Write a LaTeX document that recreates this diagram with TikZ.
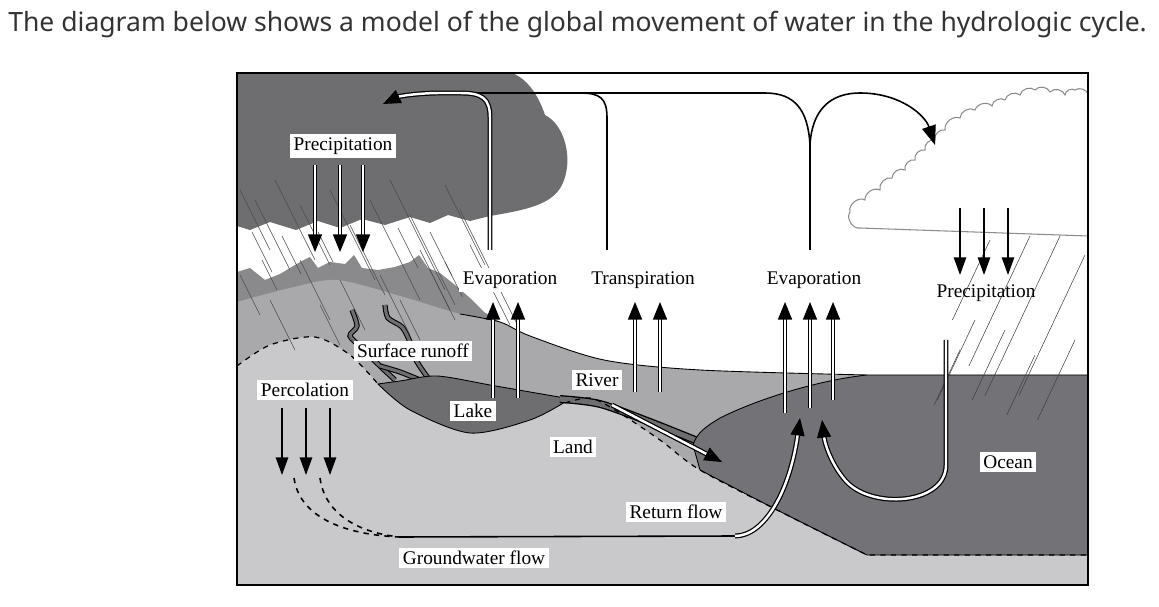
\documentclass[tikz,border=0pt]{standalone}
\usepackage{fontspec}
\setmainfont{Liberation Serif}
\newfontfamily\titlefont{Noto Sans}
\usetikzlibrary{arrows.meta}

\definecolor{stormgray}{HTML}{6E6E71}
\definecolor{peakgray}{HTML}{8A8A8D}
\definecolor{hillgray}{HTML}{A9A9AC}
\definecolor{landgray}{HTML}{C9C9CC}
\definecolor{seagray}{HTML}{737377}

\tikzset{
  lbl/.style={fill=white, inner sep=2pt, font=\fontsize{11}{13}\selectfont},
  hollow/.style={double=white, double distance=1.4pt, line width=0.7pt},
  hollowarr/.style={hollow, -{Triangle[length=10pt,width=8pt]}},
  solidarr/.style={line width=1pt, -{Triangle[length=10pt,width=7pt]}},
  rain/.style={line width=0.3pt, black!70},
  track/.style={line width=0.9pt},
}

\begin{document}
\begin{tikzpicture}[x=0.02cm, y=-0.02cm]
\useasboundingbox (0,0) rectangle (1159,607);
\node[font=\titlefont\fontsize{15.1}{17}\selectfont, text=black!80, anchor=west, inner sep=0pt] (title) at (8,25) {The diagram below shows a model of the global movement of water in the hydrologic cycle.};
% ground layers
\fill[white] (237,73) rectangle (1088,585);
\fill[peakgray] plot[sharp corners] coordinates {(237,272) (250,268) (265,280) (280,274) (300,262) (310,257) (318,268) (330,262) (345,264) (354,255) (362,268) (378,270) (395,267) (410,262) (419,255) (428,268) (440,273) (455,285) (470,298) (484,312) (500,322)} -- (500,585) -- (237,585) -- cycle;
\fill[hillgray] plot[smooth] coordinates {(237,302) (290,288) (337,280) (400,296) (460,314) (500,322) (530,336) (604,360) (700,370) (867,375)} -- (867,585) -- (237,585) -- cycle;
\draw[line width=0.5pt] plot[smooth] coordinates {(460,314) (500,322) (530,336) (604,360) (700,370) (867,375)};
\fill[landgray] plot[smooth] coordinates {(237,366) (270,345) (315,337) (350,355) (378,384)} -- (470,433) -- plot[smooth] coordinates {(565,403) (590,398) (615,410) (660,440) (700,470) (783,513) (867,555)} -- (1088,555) -- (1088,585) -- (237,585) -- cycle;
% lake and streams
\foreach \s in {{(352,310) (357,326) (350,336) (362,348) (380,366) (395,380)}, {(385,305) (388,318) (402,327) (410,342) (416,360) (428,378)}, {(380,366) (400,372) (420,380)}} {
  \draw[line width=3pt, black] plot[smooth] coordinates \s;
  \draw[line width=1.8pt, stormgray] plot[smooth] coordinates \s;
}
\filldraw[fill=stormgray, line width=0.5pt] plot[smooth] coordinates {(378,384) (410,410) (470,433) (530,420) (565,402)} -- plot[smooth] coordinates {(565,398) (530,392) (490,385) (437,376) (400,381) (378,384)} -- cycle;
\draw[line width=4.5pt] plot[smooth] coordinates {(560,399) (600,404) (650,422) (700,442)};
\draw[line width=3pt, stormgray] plot[smooth] coordinates {(560,399) (600,404) (650,422) (700,442)};
% ocean
\filldraw[fill=seagray, line width=0.5pt] (867,375) -- (1088,375) -- (1088,555) -- (867,555) -- plot[smooth] coordinates {(867,555) (783,513) (700,470)} -- (693,445) .. controls (697,432) and (707,426) .. (720,418) .. controls (760,398) and (820,380) .. (867,375);
\draw[dashed, line width=0.7pt] plot[smooth] coordinates {(237,366) (270,345) (315,337) (350,355) (378,384)};
\draw[dashed, line width=0.7pt] plot[smooth] coordinates {(565,403) (590,398) (615,410) (660,440) (700,470) (783,513) (867,555)} -- (1088,555);
% storm cloud
\fill[stormgray] (237,73) -- (512,73) .. controls (530,80) and (540,100) .. (545,115) .. controls (565,125) and (574,160) .. (562,185) .. controls (552,205) and (525,210) .. (490,216) -- (470,221) -- (448,215) -- (430,223) -- (410,217) -- (385,225) -- (362,219) -- (340,228) -- (318,221) -- (296,230) -- (270,222) -- (250,230) -- (237,226) -- cycle;
% rain
\foreach \x/\y/\l in {240/190/60, 255/200/70, 275/180/80, 300/205/60, 330/190/90, 350/225/70, 370/200/100, 390/180/110, 410/215/90, 420/250/70, 445/185/80, 460/210/120, 470/245/80, 300/260/60, 240/275/40, 270/300/50, 320/305/40, 340/280/50, 380/275/60, 400/300/40, 252/232/40, 282/236/38, 318/232/30, 398/228/40, 430/232/44, 262/260/30, 430/270/40, 445/262/35} {
  \draw[rain] (\x,\y) -- ++(0.5*\l,\l);
}
\foreach \x/\y/\l in {990/240/80, 1030/236/130, 1060/236/160, 1085/255/140, 975/320/80, 1005/330/70, 960/350/55, 1035/355/60, 1075/340/80} {
  \draw[rain, black!75] (\x,\y) -- ++(-0.47*\l,\l);
}
% fair-weather cloud
\draw[black!45, line width=0.6pt] (1088,236) -- (860,228) to[bend left=70] (850,212) to[bend left=70] (865,200) to[bend left=60] (880,190) to[bend left=60] (892,178) to[bend left=60] (905,170) to[bend left=60] (915,160) to[bend left=60] (925,150) to[bend left=60] (935,140) to[bend left=60] (945,130) to[bend left=60] (960,118) to[bend left=60] (975,110) to[bend left=60] (992,106) to[bend left=60] (1005,100) to[bend left=60] (1020,95) to[bend left=60] (1035,90) to[bend left=60] (1050,92) to[bend left=60] (1065,95) to[bend left=60] (1075,90) to[bend left=50] (1088,94);
% labels
\node[lbl] (pcpL) at (343,146) {Precipitation};
\node[lbl] (evapL) at (510,280) {Evaporation};
\node[lbl] (trans) at (643,280) {Transpiration};
\node[lbl] (evapR) at (814,280) {Evaporation};
\node[lbl, fill=none] (pcpR) at (986,293) {Precipitation};
\node[lbl] (runoff) at (413,351) {Surface runoff};
\node[lbl] (perc) at (305,390) {Percolation};
\node[lbl] (lake) at (473,411) {Lake};
\node[lbl] (river) at (597,380) {River};
\node[lbl] (land) at (573,447) {Land};
\node[lbl] (ocean) at (1008,462) {Ocean};
\node[lbl] (retflow) at (676,512) {Return flow};
\node[lbl] (gwflow) at (474,558) {Groundwater flow};
% atmospheric transport
\coordinate (evL) at (490,250);
\coordinate (stormtip) at (383,104);
\coordinate (tr) at (607,250);
\coordinate (evR) at (810,250);
\coordinate (cloudtip) at (935,145);
\draw[track] (tr) -- (607,118) .. controls (607,98) and (600,93) .. (580,93) -- (470,93);
\draw[track] (evR) -- (810,145) .. controls (808,110) and (795,93) .. (765,93) -- (580,93);
\draw[track, -{Triangle[length=11pt,width=8pt]}] (810,145) .. controls (812,110) and (830,93) .. (860,93) .. controls (900,93) and (925,115) .. (cloudtip);
\draw[hollowarr] (evL) -- (490,118) .. controls (490,98) and (482,93) .. (460,93) -- (440,93) .. controls (420,93) and (400,96) .. (stormtip);
% vertical arrows
\foreach \i/\x in {1/315, 2/340, 3/363} {
  \coordinate (pl\i) at (\x,165); \coordinate (pl\i e) at (\x,252);
  \draw[hollowarr] (pl\i) -- (pl\i e);
}
\foreach \i/\x/\y in {1/493/398, 2/518/398, 3/635/392, 4/660/392, 5/785/413, 6/810/408, 7/833/400} {
  \coordinate (ev\i) at (\x,\y); \coordinate (ev\i e) at (\x,302);
  \draw[hollowarr] (ev\i) -- (ev\i e);
}
\foreach \i/\x in {1/960, 2/984, 3/1008} {
  \coordinate (pr\i) at (\x,208); \coordinate (pr\i e) at (\x,275);
  \draw[solidarr] (pr\i) -- (pr\i e);
}
\foreach \i/\x in {1/282, 2/306, 3/330} {
  \coordinate (pc\i) at (\x,408); \coordinate (pc\i e) at (\x,475);
  \draw[solidarr] (pc\i) -- (pc\i e);
}
% groundwater and return flow
\coordinate (gw) at (400,537);
\coordinate (retbend) at (735,536);
\draw[dashed, track] (294,478) .. controls (300,520) and (350,535) .. (gw);
\draw[dashed, track] (320,478) .. controls (325,515) and (360,533) .. (gw);
\draw[track] (gw) -- (retbend);
\draw[hollowarr] (retbend) .. controls (765,536) and (790,490) .. (800,418);
\coordinate (rivtop) at (612,405); \coordinate (rivend) at (722,462);
\draw[hollowarr] (rivtop) -- (rivend);
\coordinate (oceanrain) at (946,340); \coordinate (oceantip) at (822,420);
\draw[hollowarr] (oceanrain) -- (946,465) .. controls (946,505) and (870,510) .. (845,480) .. controls (832,465) and (825,445) .. (oceantip);
% frame
\draw[line width=0.8pt] (237,73) rectangle (1088,585);
\end{tikzpicture}
\end{document}
